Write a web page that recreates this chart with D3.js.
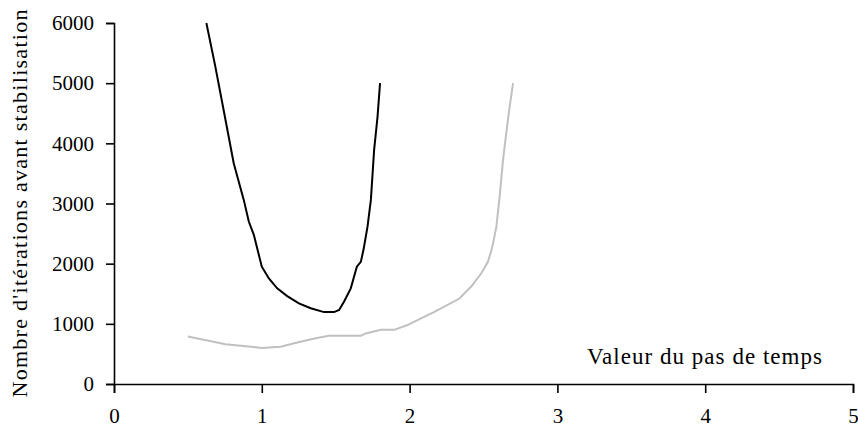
<!DOCTYPE html>
<html>
<head>
<meta charset="utf-8">
<script src="https://cdn.jsdelivr.net/npm/d3@7"></script>
<style>
  body { margin: 0; background: #fff; }
  text { font-family: "Liberation Serif", "DejaVu Serif", serif; fill: #000; }
</style>
</head>
<body>
<svg id="chart"></svg>
<script>
const width = 858;
const height = 443;

// serie noire
const blackX = [0.625, 0.686, 0.742, 0.81, 0.878, 0.912, 0.946, 1.0, 1.048, 1.104, 1.172, 1.251, 1.331, 1.421, 1.489, 1.523, 1.557, 1.602, 1.643, 1.67, 1.688, 1.715, 1.738, 1.76, 1.783, 1.8];
const blackY = [6000, 5270, 4550, 3670, 3060, 2700, 2480, 1950, 1755, 1590, 1460, 1340, 1260, 1195, 1195, 1230, 1370, 1590, 1950, 2030, 2230, 2610, 3060, 3890, 4440, 5000];

// serie grise
const greyX = [0.5, 0.754, 1.0, 1.127, 1.24, 1.364, 1.455, 1.67, 1.703, 1.806, 1.896, 1.986, 2.077, 2.168, 2.337, 2.417, 2.485, 2.53, 2.557, 2.587, 2.609, 2.632, 2.654, 2.677, 2.7];
const greyY = [790, 660, 600, 620, 690, 760, 800, 800, 840, 900, 900, 980, 1090, 1200, 1420, 1620, 1840, 2030, 2250, 2610, 3110, 3720, 4170, 4610, 5000];

const xTicks = [0, 1, 2, 3, 4, 5];
const yTicks = [0, 1000, 2000, 3000, 4000, 5000, 6000];

const margin = {top: 23, right: 5, bottom: 59, left: 114};

const svg = d3.select("#chart")
    .attr("width", width)
    .attr("height", height);

const x = d3.scaleLinear().domain([0, 5]).range([margin.left, width - margin.right]);
const y = d3.scaleLinear().domain([0, 6000]).range([height - margin.bottom, margin.top]);

const xAxis = svg.append("g")
    .attr("transform", `translate(0,${y(0)})`)
    .call(d3.axisBottom(x).tickValues(xTicks).tickSize(9).tickPadding(15).tickFormat(d3.format("d")));

const yAxis = svg.append("g")
    .attr("transform", `translate(${x(0)},0)`)
    .call(d3.axisLeft(y).tickValues(yTicks).tickSize(8).tickPadding(12).tickFormat(d3.format("d")));

[xAxis, yAxis].forEach(g => {
    g.select(".domain").attr("stroke", "#000").attr("stroke-width", 1.6);
    g.selectAll(".tick line").attr("stroke", "#000").attr("stroke-width", 1.6);
    g.selectAll(".tick text").style("font-size", "21px").style("font-family", "Liberation Serif");
});

const line = d3.line().x(d => x(d[0])).y(d => y(d[1]));

svg.append("path")
    .datum(greyX.map((v, i) => [v, greyY[i]]))
    .attr("fill", "none")
    .attr("stroke", "#c0c0c0")
    .attr("stroke-width", 2)
    .attr("d", line);

svg.append("path")
    .datum(blackX.map((v, i) => [v, blackY[i]]))
    .attr("fill", "none")
    .attr("stroke", "#000")
    .attr("stroke-width", 2)
    .attr("d", line);

svg.append("text")
    .attr("x", 587)
    .attr("y", 364)
    .attr("textLength", 235)
    .style("font-size", "23px")
    .text("Valeur du pas de temps");

svg.append("text")
    .attr("transform", `translate(27,${(y(0) + y(6000)) / 2}) rotate(-90)`)
    .attr("text-anchor", "middle")
    .attr("textLength", 388)
    .style("font-size", "22px")
    .text("Nombre d'itérations avant stabilisation");
</script>
</body>
</html>
